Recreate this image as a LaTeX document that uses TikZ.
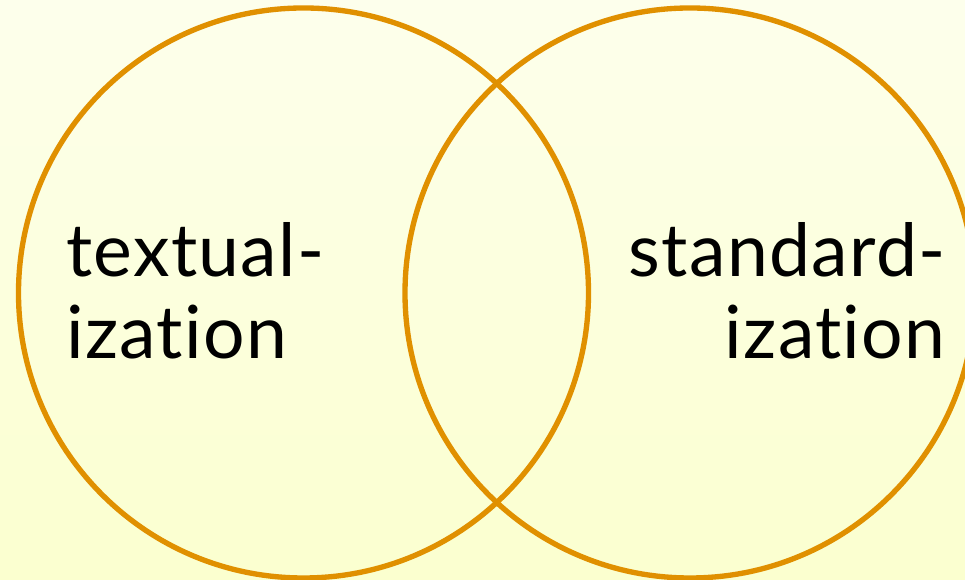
\documentclass[tikz,border=0pt]{standalone}
\usepackage{fontspec}
\setmainfont[Ligatures=NoCommon, LetterSpace=1.8]{Lato}
\usepackage{xcolor}
\usetikzlibrary{positioning}

\definecolor{ringorange}{HTML}{E09000}
\definecolor{paletop}{HTML}{FDFFEC}
\definecolor{palebottom}{HTML}{FBFFCF}

\begin{document}
\begin{tikzpicture}[x=0.75pt, y=0.75pt,
    ring/.style={circle, draw=ringorange, line width=4pt, minimum size=427.5pt, inner sep=0pt, outer sep=0pt},
    term/.style={inner sep=0pt, font=\fontsize{55}{61.5}\selectfont}]
        % background
        \shade[top color=paletop, bottom color=palebottom] (0,0) rectangle (965,580);
        \useasboundingbox (0,0) rectangle (965,580);

        % the two circles
        \node[ring] (textcirc) at (303.5,287) {};
        \node[ring] (stdcirc) at (690,287) {};

        % labels
        \node[term, align=left, anchor=west] (textlabel) at (66,289) {textual-\\ization};
        \node[term, align=right, anchor=east] (stdlabel) at (946,289) {standard-\\ization};
    \end{tikzpicture}
\end{document}
